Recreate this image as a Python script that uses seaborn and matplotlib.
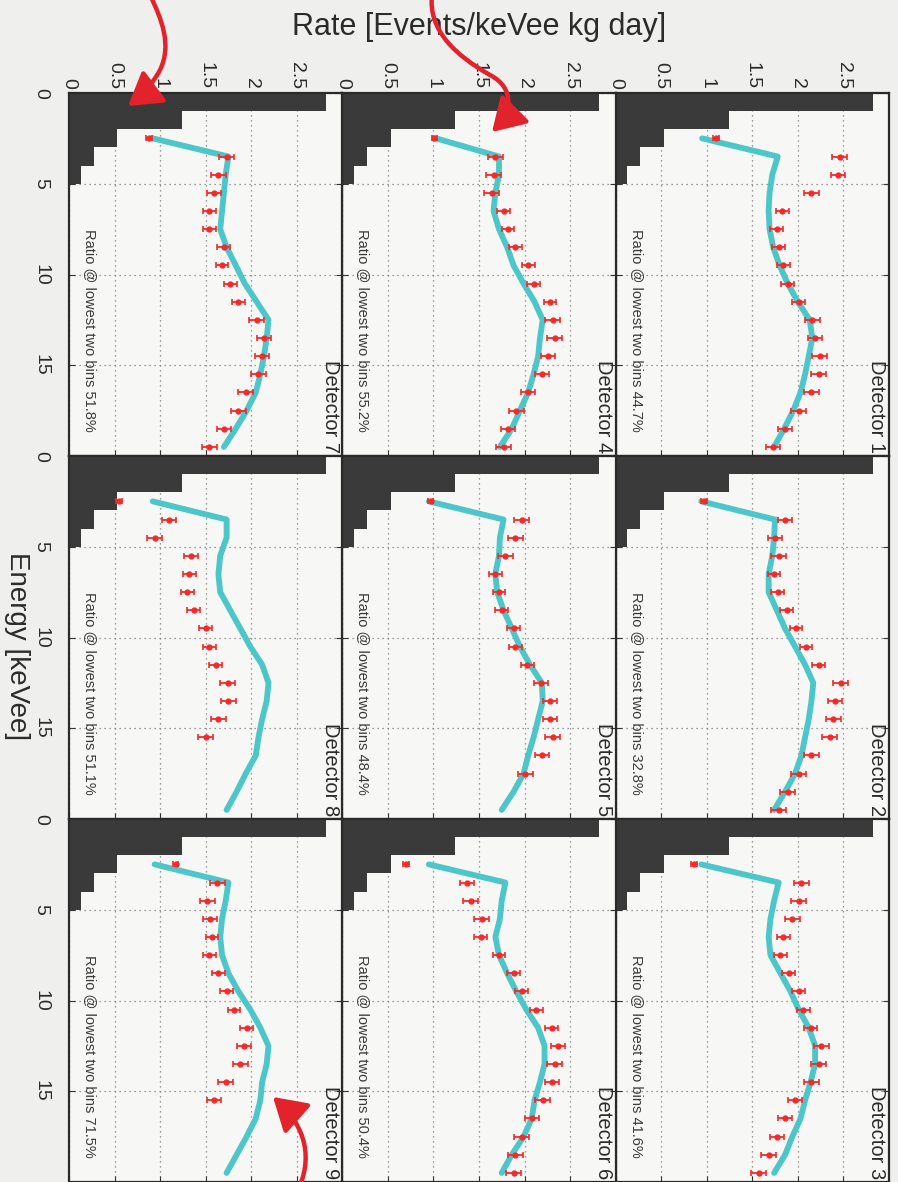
import matplotlib
matplotlib.use("Agg")
import numpy as np
import pandas as pd
import matplotlib.pyplot as plt
import seaborn as sns
from matplotlib.path import Path
from matplotlib.patches import FancyArrowPatch
from matplotlib.transforms import Affine2D

sns.set_theme(style="white")
plt.rcParams["font.family"] = ["Liberation Sans", "DejaVu Sans"]

# low-energy histogram, 1 keVee bins starting at 0
HIST_LEFT = [0, 1, 2, 3, 4]
HIST_RATE = [2.82, 1.24, 0.53, 0.27, 0.13]

# bin centres of the measured spectra (keVee)
ENERGY = [2.5, 3.5, 4.5, 5.5, 6.5, 7.5, 8.5, 9.5, 10.5,
          11.5, 12.5, 13.5, 14.5, 15.5, 16.5, 17.5, 18.5, 19.5]

# statistical error on each measured bin
ERR = [0.03, 0.08, 0.08, 0.08, 0.07, 0.07, 0.07, 0.07, 0.07,
       0.07, 0.08, 0.08, 0.08, 0.08, 0.08, 0.08, 0.08, 0.08]

RATE_D1 = [1.10, 2.46, 2.44, 2.15, 1.83, 1.77, 1.79, 1.84, 1.89,
           2.01, 2.16, 2.19, 2.24, 2.23, 2.15, 2.01, 1.86, 1.73]
RATE_D2 = [0.97, 1.86, 1.75, 1.79, 1.74, 1.78, 1.88, 1.98, 2.09,
           2.23, 2.47, 2.41, 2.39, 2.35, 2.15, 2.01, 1.89, 1.79]
RATE_D3 = [0.86, 2.04, 2.01, 1.94, 1.84, 1.81, 1.90, 2.01, 2.06,
           2.14, 2.26, 2.23, 2.15, 1.97, 1.86, 1.77, 1.68, 1.57]
RATE_D4 = [1.01, 1.68, 1.66, 1.64, 1.77, 1.82, 1.90, 2.04, 2.10,
           2.28, 2.31, 2.33, 2.26, 2.19, 2.04, 1.91, 1.82, 1.77]
RATE_D5 = [0.97, 1.97, 1.90, 1.79, 1.68, 1.72, 1.75, 1.88, 1.90,
           2.03, 2.18, 2.28, 2.28, 2.31, 2.19, 2.01]
RATE_D6 = [0.70, 1.37, 1.41, 1.53, 1.52, 1.72, 1.88, 1.97, 2.13,
           2.30, 2.37, 2.33, 2.30, 2.20, 2.08, 1.97, 1.90, 1.88]
RATE_D7 = [0.88, 1.73, 1.64, 1.59, 1.54, 1.54, 1.70, 1.68, 1.77,
           1.86, 2.06, 2.14, 2.12, 2.08, 1.94, 1.86, 1.70, 1.54]
RATE_D8 = [0.55, 1.10, 0.94, 1.34, 1.32, 1.30, 1.37, 1.50, 1.54,
           1.61, 1.74, 1.75, 1.64, 1.50]
RATE_D9 = [1.17, 1.63, 1.52, 1.55, 1.57, 1.54, 1.64, 1.73, 1.81,
           1.95, 1.92, 1.88, 1.72, 1.59]

MODEL_D1 = [0.95, 1.78, 1.72, 1.69, 1.68, 1.69, 1.73, 1.80, 1.89,
            2.00, 2.13, 2.16, 2.12, 2.08, 2.03, 1.95, 1.85, 1.74]
MODEL_D2 = [0.94, 1.75, 1.74, 1.72, 1.68, 1.68, 1.77, 1.86, 1.97,
            2.08, 2.17, 2.15, 2.12, 2.08, 2.04, 1.97, 1.86, 1.74]
MODEL_D3 = [0.94, 1.79, 1.74, 1.70, 1.68, 1.70, 1.81, 1.92, 2.01,
            2.12, 2.19, 2.19, 2.14, 2.08, 2.03, 1.94, 1.86, 1.74]
MODEL_D4 = [1.03, 1.72, 1.72, 1.68, 1.66, 1.72, 1.81, 1.88, 1.99,
            2.11, 2.20, 2.17, 2.15, 2.10, 2.04, 1.95, 1.86, 1.73]
MODEL_D5 = [0.95, 1.77, 1.73, 1.72, 1.68, 1.70, 1.77, 1.86, 1.95,
            2.06, 2.19, 2.20, 2.15, 2.10, 2.04, 1.99, 1.88, 1.75]
MODEL_D6 = [0.95, 1.79, 1.75, 1.73, 1.68, 1.72, 1.81, 1.91, 2.02,
            2.15, 2.22, 2.22, 2.17, 2.11, 2.08, 1.99, 1.86, 1.75]
MODEL_D7 = [0.92, 1.75, 1.72, 1.70, 1.68, 1.66, 1.73, 1.83, 1.93,
            2.06, 2.19, 2.17, 2.14, 2.10, 2.05, 1.95, 1.83, 1.70]
MODEL_D8 = [0.92, 1.73, 1.73, 1.66, 1.64, 1.66, 1.77, 1.88, 1.99,
            2.12, 2.19, 2.17, 2.12, 2.08, 2.05, 1.94, 1.84, 1.73]
MODEL_D9 = [0.94, 1.75, 1.72, 1.68, 1.66, 1.68, 1.75, 1.86, 1.99,
            2.10, 2.19, 2.17, 2.12, 2.10, 2.05, 1.95, 1.84, 1.73]

RATIO = ["44.7%", "32.8%", "41.6%", "55.2%", "48.4%",
         "50.4%", "51.8%", "51.1%", "71.5%"]

RATE_TICKS = [0, 0.5, 1, 1.5, 2, 2.5]
RATE_TICK_LABELS = ["0", "0.5", "1", "1.5", "2", "2.5"]
ENERGY_TICKS = [0, 5, 10, 15]
ENERGY_TICK_LABELS = ["0", "5", "10", "15"]

rates = [RATE_D1, RATE_D2, RATE_D3, RATE_D4, RATE_D5,
         RATE_D6, RATE_D7, RATE_D8, RATE_D9]
models = [MODEL_D1, MODEL_D2, MODEL_D3, MODEL_D4, MODEL_D5,
          MODEL_D6, MODEL_D7, MODEL_D8, MODEL_D9]

# styling
FIG_BG = "#efefed"
AX_BG = "#f7f7f5"
HIST_C = "#3a3a3a"
LINE_C = "#4cc6c8"
PT_C = "#f42a2a"
ARROW_C = "#e3232b"

W_PX, H_PX = 898, 1182
fig = plt.figure(figsize=(W_PX / 100, H_PX / 100), dpi=100, facecolor=FIG_BG)

# panel layout in pixels (x from left, y from top); the page is turned on its side
COL_LEFT = [69, 342.3, 615.6]
COL_W = 273.3
ROW_TOP = [93, 456, 819]
ROW_H = 363

axes = {}
for d in range(1, 10):
    r, c = divmod(d - 1, 3)
    col = 2 - r
    row = c
    left = COL_LEFT[col] / W_PX
    bottom = (H_PX - ROW_TOP[row] - ROW_H) / H_PX
    ax = fig.add_axes([left, bottom, COL_W / W_PX, ROW_H / H_PX])
    ax.set_facecolor(AX_BG)
    axes[d] = ax

    ax.barh(HIST_LEFT, HIST_RATE, height=1.0, align="edge",
            color=HIST_C, edgecolor="none", zorder=2)

    sns.lineplot(x=models[d - 1], y=ENERGY, orient="y", sort=False,
                 estimator=None, color=LINE_C, lw=4.2, ax=ax, zorder=3)

    n = len(rates[d - 1])
    ax.errorbar(rates[d - 1], ENERGY[:n], xerr=ERR[:n], fmt="o", ms=3.5,
                color=PT_C, ecolor=PT_C, elinewidth=1.3, capsize=2.5,
                capthick=1.2, zorder=4)

    ax.set_xlim(0, 3)
    ax.set_ylim(20, 0)
    ax.set_xticks(RATE_TICKS)
    ax.set_yticks(ENERGY_TICKS)
    ax.grid(True, color="#7a7a7a", lw=0.9, ls=(0, (1, 3)))
    ax.set_axisbelow(True)
    for s in ax.spines.values():
        s.set_color("#2a2a2a")
        s.set_linewidth(1.6)
    ax.tick_params(axis="both", direction="in", length=4, width=0.8,
                   color="#333333", top=True, right=True, bottom=True, left=True,
                   labelsize=14, labelcolor="#2b2b2b")

    if row == 0:
        ax.tick_params(axis="x", labeltop=True, labelbottom=False, pad=3)
        ax.set_xticklabels(RATE_TICK_LABELS, rotation=270)
    else:
        ax.tick_params(axis="x", labeltop=False, labelbottom=False)
    if col == 0:
        ax.tick_params(axis="y", labelleft=True, pad=14)
        ax.set_yticklabels(ENERGY_TICK_LABELS, rotation=270, va="center")
    else:
        ax.tick_params(axis="y", labelleft=False)
    ax.set_xlabel("")
    ax.set_ylabel("")

    ax.text(2.97, 19.85, f"Detector {d}", rotation=270, rotation_mode="anchor",
            ha="right", va="top", fontsize=14.5, color="#2b2b2b", zorder=5)
    ax.text(0.23, 7.5, f"Ratio @ lowest two bins {RATIO[d - 1]}", rotation=270,
            rotation_mode="anchor", ha="left", va="center", fontsize=10.5,
            color="#3a3a3a", zorder=5)

fig.text(479 / W_PX, 1 - 27 / H_PX, "Rate [Events/keVee kg day]",
         ha="center", va="center", fontsize=22, color="#2b2b2b")
fig.text(17 / W_PX, 1 - 646 / H_PX, "Energy [keVee]", rotation=270,
         ha="center", va="center", fontsize=20, color="#2b2b2b")

# hand-drawn style pointers, laid out in page pixels
page = Affine2D().scale(1 / W_PX, -1 / H_PX).translate(0, 1) + fig.transFigure
C4 = Path.CURVE4
pointers = [
    ([(150, -5), (162, 20), (172, 45), (160, 70), (152, 85), (140, 97), (128, 106)],
     [Path.MOVETO, C4, C4, C4, C4, C4, C4]),
    ([(432, -5), (428, 30), (455, 55), (490, 75), (515, 88), (512, 112), (492, 132)],
     [Path.MOVETO, C4, C4, C4, C4, C4, C4]),
    ([(298, 1190), (312, 1160), (308, 1128), (273, 1097)],
     [Path.MOVETO, C4, C4, C4]),
]
for verts, codes in pointers:
    arr = FancyArrowPatch(path=Path(verts, codes), arrowstyle="-|>,head_length=0.9,head_width=0.55",
                          mutation_scale=22, color=ARROW_C, lw=3.2,
                          transform=page, zorder=10)
    fig.add_artist(arr)

fig.savefig("out.png", dpi=100, facecolor=FIG_BG)
